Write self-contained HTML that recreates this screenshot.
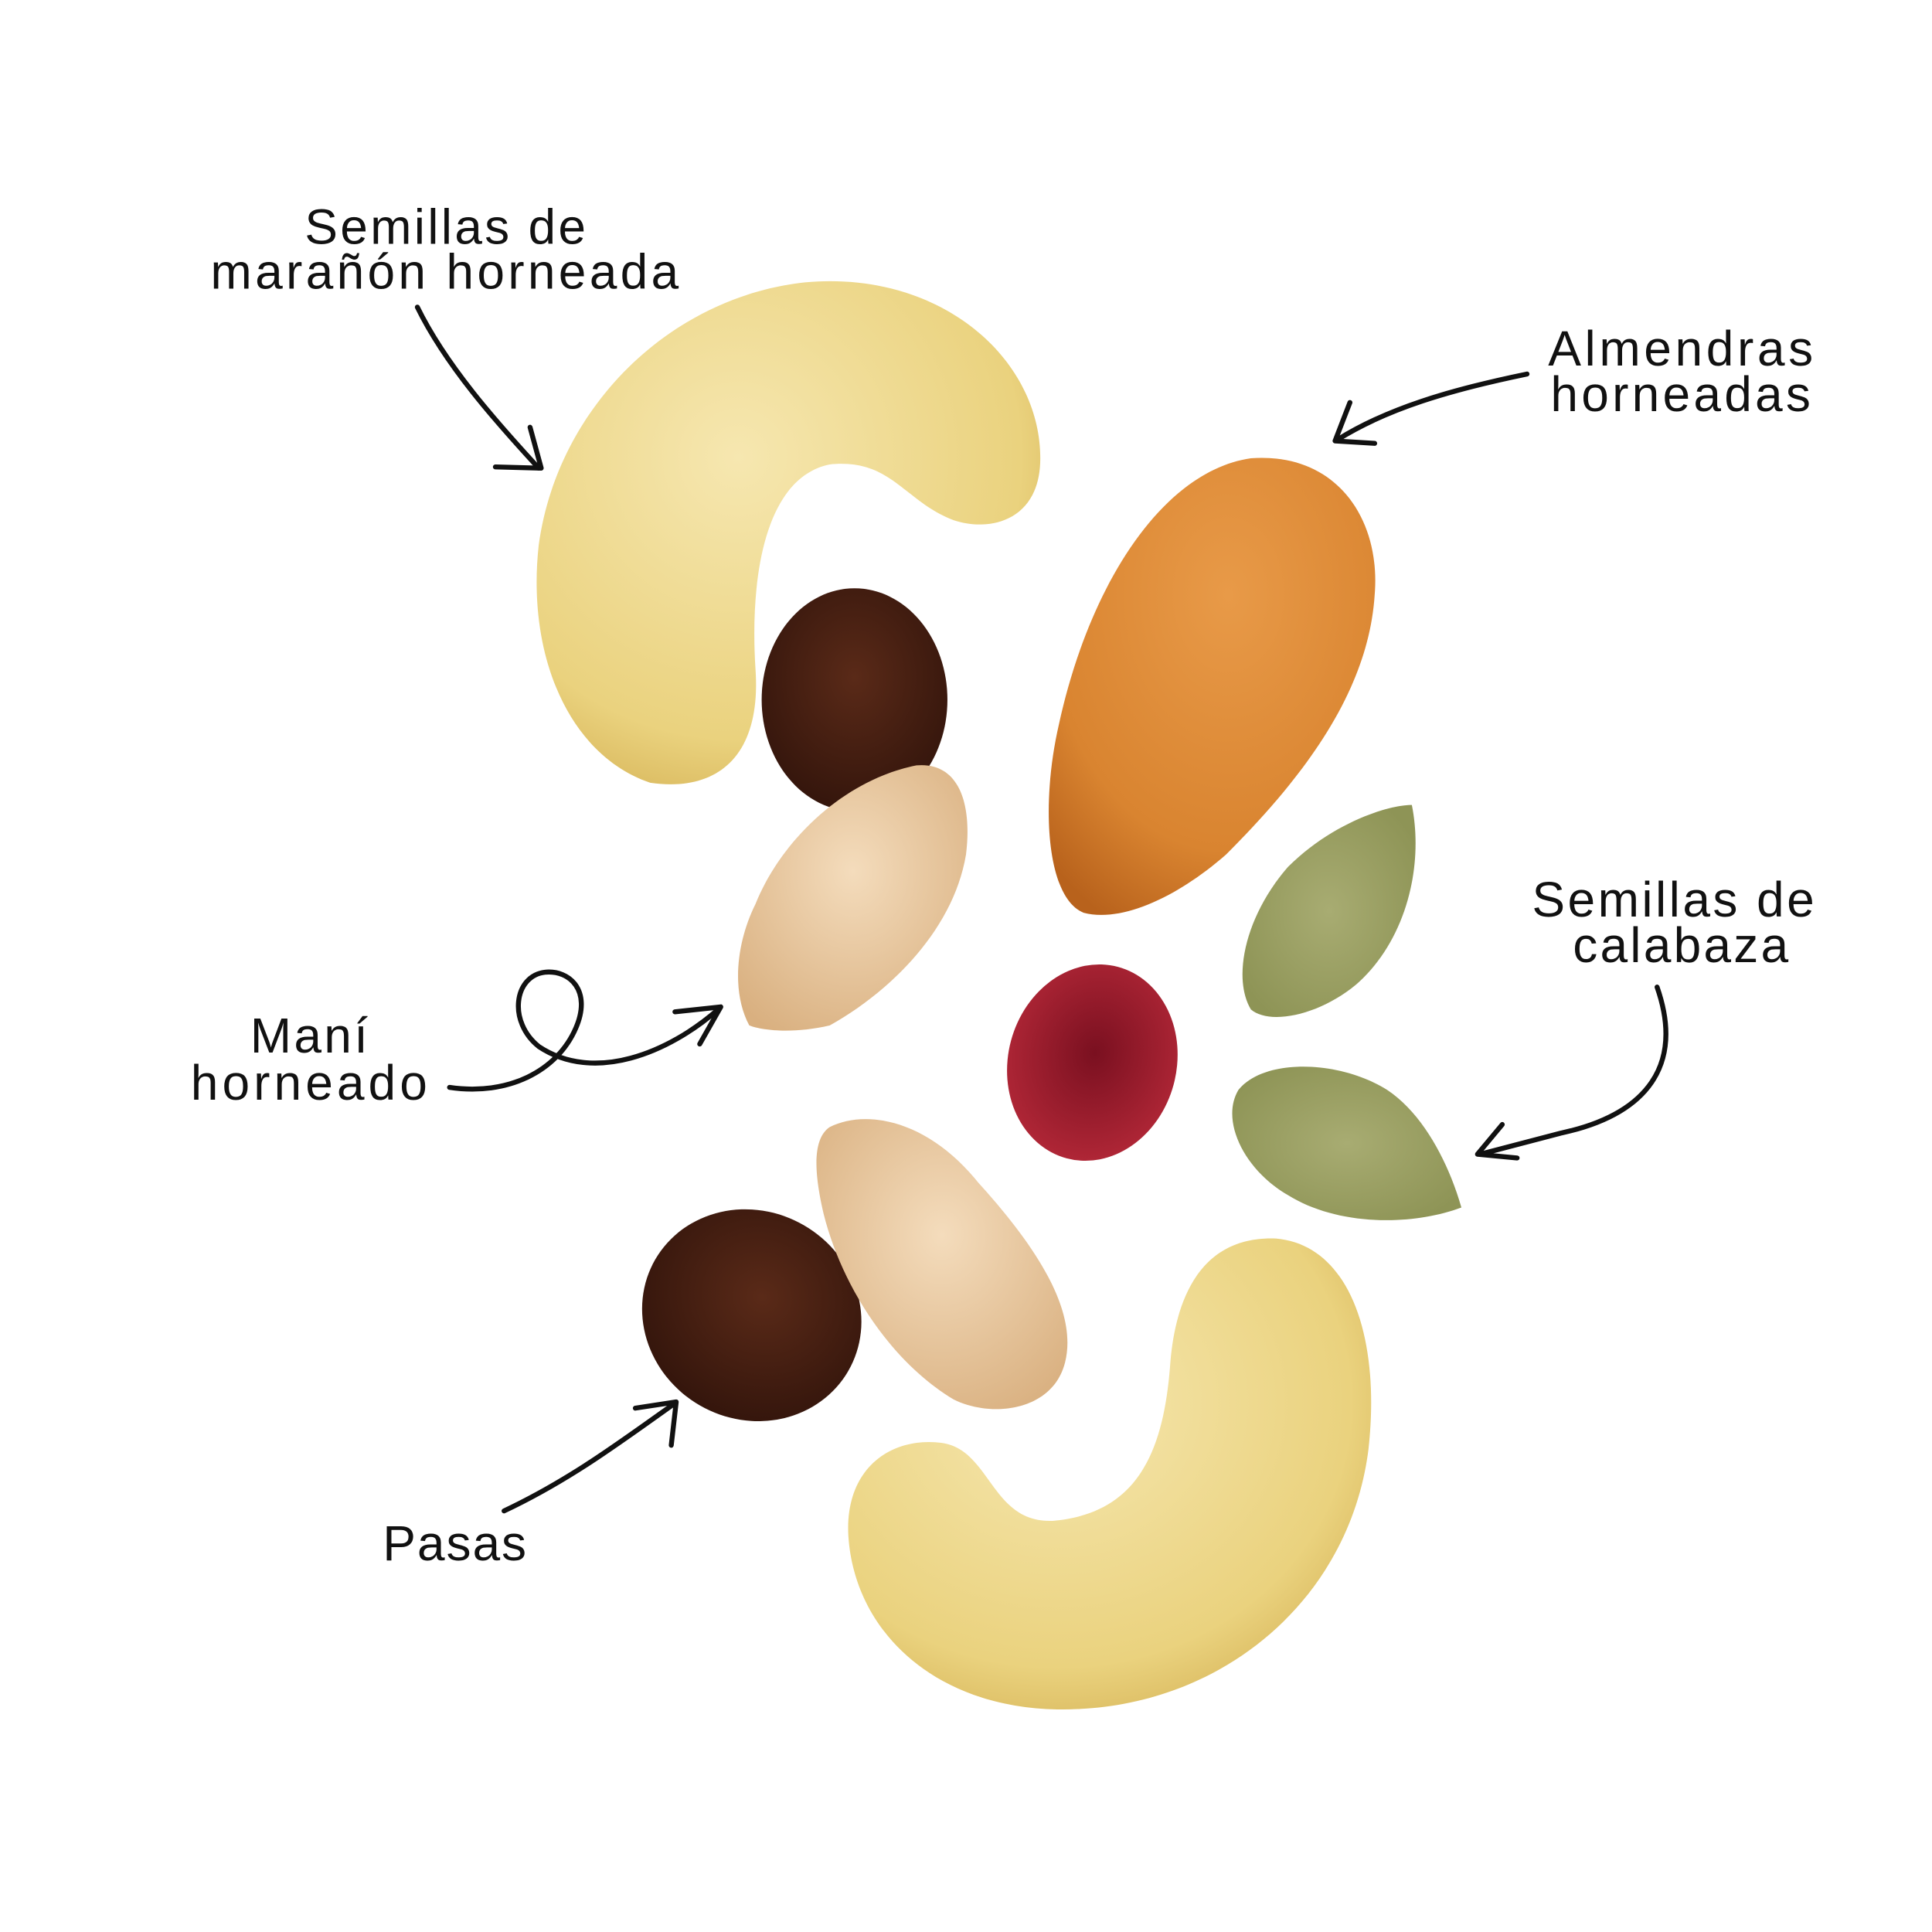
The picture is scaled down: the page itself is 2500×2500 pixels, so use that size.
<!DOCTYPE html>
<html><head><meta charset="utf-8"><style>html,body{margin:0;padding:0;background:#fff}svg{display:block}</style></head>
<body>
<svg width="2500" height="2500" viewBox="0 0 1560 1560" xmlns="http://www.w3.org/2000/svg">
<defs>
<radialGradient id="cash" cx="0.4" cy="0.35" r="0.8"><stop offset="0" stop-color="#f6e7b0"/><stop offset="0.7" stop-color="#ead27e"/><stop offset="1" stop-color="#cfa94a"/></radialGradient>
<radialGradient id="alm" cx="0.55" cy="0.3" r="0.8"><stop offset="0" stop-color="#e89a48"/><stop offset="0.7" stop-color="#d98430"/><stop offset="1" stop-color="#b8621c"/></radialGradient>
<radialGradient id="rai" cx="0.5" cy="0.4" r="0.7"><stop offset="0" stop-color="#5a2a18"/><stop offset="1" stop-color="#2e120a"/></radialGradient>
<radialGradient id="pea" cx="0.5" cy="0.4" r="0.7"><stop offset="0" stop-color="#f4dcbc"/><stop offset="1" stop-color="#d9b080"/></radialGradient>
<radialGradient id="cra" cx="0.5" cy="0.45" r="0.6"><stop offset="0" stop-color="#7a1020"/><stop offset="1" stop-color="#b42838"/></radialGradient>
<radialGradient id="pum" cx="0.5" cy="0.5" r="0.6"><stop offset="0" stop-color="#a8ac72"/><stop offset="1" stop-color="#8e9456"/></radialGradient>
</defs>
<rect width="1560" height="1560" fill="#fff"/>
<path d="M525 632 C460 610 425 530 435 440 C450 330 540 240 650 228 C760 218 840 290 840 370 C840 420 800 430 770 420 C730 405 720 370 670 375 C620 385 605 460 610 540 C615 610 580 640 525 632 Z" fill="url(#cash)"/>
<path d="M1030 1000 C1090 1005 1115 1080 1105 1170 C1090 1290 990 1375 870 1380 C760 1385 690 1320 685 1240 C682 1185 720 1160 760 1165 C800 1170 800 1230 850 1228 C920 1222 940 1170 945 1100 C950 1040 975 998 1030 1000 Z" fill="url(#cash)"/>
<path d="M875 737 C845 725 840 650 855 585 C880 470 940 380 1010 370 C1080 365 1115 420 1110 480 C1105 560 1050 630 990 690 C950 725 905 745 875 737 Z" fill="url(#alm)"/>
<ellipse cx="690" cy="565" rx="75" ry="90" fill="url(#rai)"/>
<ellipse cx="607" cy="1062" rx="90" ry="84" transform="rotate(30 607 1062)" fill="url(#rai)"/>
<path d="M605 828 C590 800 595 760 610 730 C630 680 680 630 740 618 C775 615 785 650 780 690 C770 750 720 800 670 828 C640 835 615 832 605 828 Z" fill="url(#pea)"/>
<path d="M670 910 C700 895 750 905 790 955 C840 1010 870 1060 860 1100 C850 1140 800 1145 770 1130 C720 1100 680 1040 665 980 C658 950 655 920 670 910 Z" fill="url(#pea)"/>
<ellipse cx="882" cy="858" rx="68" ry="80" transform="rotate(15 882 858)" fill="url(#cra)"/>
<path d="M1010 815 C995 790 1005 740 1040 700 C1075 665 1120 650 1140 650 C1150 700 1135 760 1095 795 C1065 820 1025 828 1010 815 Z" fill="url(#pum)"/>
<path d="M1000 880 C1020 855 1080 855 1120 880 C1150 900 1170 940 1180 975 C1140 990 1080 990 1040 965 C1005 945 985 905 1000 880 Z" fill="url(#pum)"/>
<g fill="none" stroke="#111" stroke-width="4" stroke-linecap="round" stroke-linejoin="round">
<path d="M337 248 C360 295 400 340 435 378"/><path d="M400 377 L437 378 L428 345"/>
<path d="M1233 302 C1170 315 1120 330 1080 355"/><path d="M1090 325 L1078 356 L1110 358"/>
<path d="M363 878 C410 885 450 865 465 830 C478 800 460 783 440 785 C415 788 410 825 435 845 C480 875 540 850 580 815"/><path d="M545 817 L582 813 L565 843"/>
<path d="M1338 797 C1360 860 1330 900 1260 915 L1195 932"/><path d="M1213 908 L1193 932 L1225 935"/>
<path d="M407 1220 C460 1195 500 1165 545 1133"/><path d="M513 1137 L546 1132 L542 1167"/>
</g>
<g font-family="Liberation Sans, DejaVu Sans, sans-serif" font-size="40" fill="#111" lengthAdjust="spacing">
<text x="246" y="197" textLength="227">Semillas de</text><text x="170" y="233" textLength="378">marañón horneada</text>
<text x="1250" y="295" textLength="214">Almendras</text><text x="1252" y="332" textLength="210">horneadas</text>
<text x="1237" y="740" textLength="228">Semillas de</text><text x="1270" y="777" textLength="174">calabaza</text>
<text x="202" y="850" textLength="95">Maní</text><text x="154" y="888" textLength="191">horneado</text>
<text x="309" y="1260" textLength="116">Pasas</text>
</g>
</svg>
</body></html>
